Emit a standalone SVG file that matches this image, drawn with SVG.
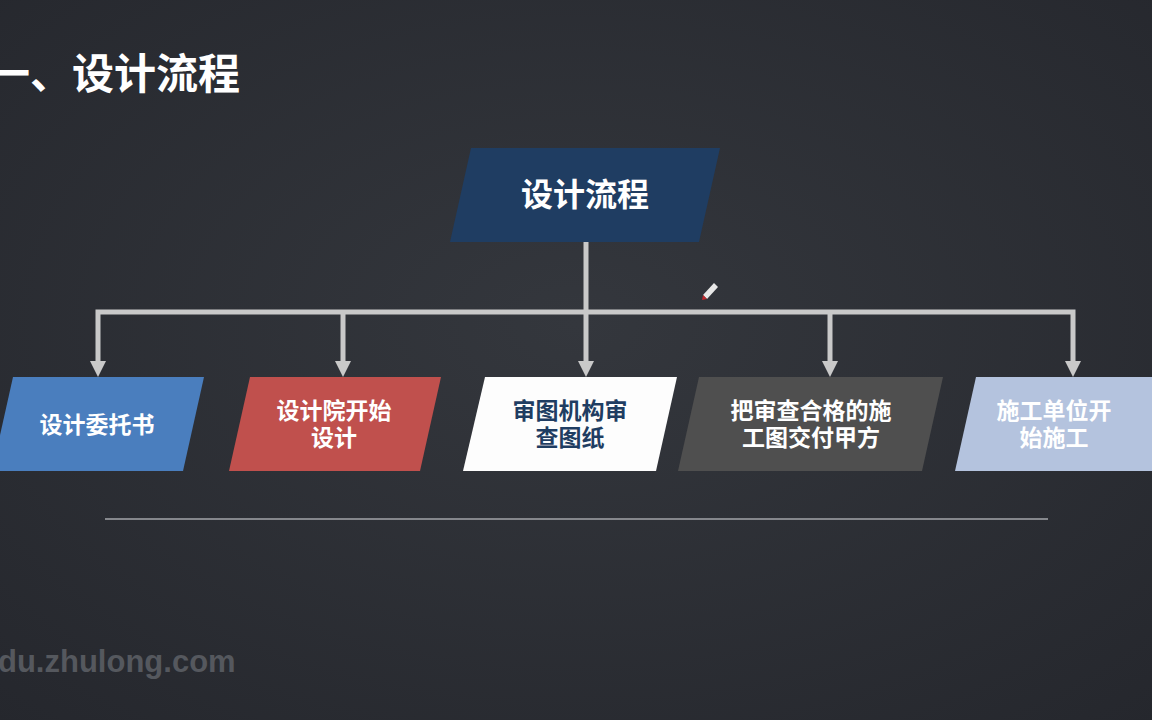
<svg xmlns="http://www.w3.org/2000/svg" width="1152" height="720" viewBox="0 0 1152 720">
<defs>
<style>
.t{font-family:"Liberation Sans","Noto Sans CJK SC",sans-serif;font-weight:bold;text-anchor:middle;dominant-baseline:central}
.w{fill:#ffffff}
.lbl{font-size:23px}
.conn{stroke:#c9c9c9;stroke-width:5;fill:none;stroke-linejoin:miter}
.ah{fill:#c9c9c9}
</style>
<radialGradient id="bg" cx="50%" cy="45%" r="75%">
<stop offset="0" stop-color="#34373d"/>
<stop offset="1" stop-color="#25272d"/>
</radialGradient>
</defs>
<rect width="1152" height="720" fill="url(#bg)"/>
<text class="t w" x="-12" y="74" style="font-size:42px;text-anchor:start">一、设计流程</text>
<text x="-2" y="661" style="font-family:'Liberation Sans',sans-serif;font-weight:bold;font-size:31px;fill:#55585e;dominant-baseline:central">du.zhulong.com</text>
<line x1="105" y1="519" x2="1048" y2="519" stroke="#85878c" stroke-width="2"/>
<g id="connectors">
<path class="conn" d="M586,242 V312"/>
<path class="conn" d="M98,364 V312 H1073 V364"/>
<path class="conn" d="M343,312 V364"/>
<path class="conn" d="M586,312 V364"/>
<path class="conn" d="M830,312 V364"/>
<polygon class="ah" points="90,361 106,361 98,377"/>
<polygon class="ah" points="335,361 351,361 343,377"/>
<polygon class="ah" points="578,361 594,361 586,377"/>
<polygon class="ah" points="822,361 838,361 830,377"/>
<polygon class="ah" points="1065,361 1081,361 1073,377"/>
</g>
<g id="top">
<polygon points="471,148 720,148 699,242 450,242" fill="#1f3d62"/>
<text class="t w" x="585" y="195" style="font-size:32px">设计流程</text>
</g>
<g id="n1">
<polygon points="13,377 204,377 183,471 -8,471" fill="#4a7ebe"/>
<text class="t w lbl" x="97" y="425">设计委托书</text>
</g>
<g id="n2">
<polygon points="250,377 441,377 420,471 229,471" fill="#c0504d"/>
<text class="t w lbl" x="334" y="411">设计院开始</text>
<text class="t w lbl" x="334" y="438">设计</text>
</g>
<g id="n3">
<polygon points="485,377 677,377 656,471 463,471" fill="#fdfdfd"/>
<text class="t lbl" x="570" y="411" fill="#1f3d62">审图机构审</text>
<text class="t lbl" x="570" y="438" fill="#1f3d62">查图纸</text>
</g>
<g id="n4">
<polygon points="699,377 943,377 922,471 678,471" fill="#4f4f4f"/>
<text class="t w lbl" x="811" y="411">把审查合格的施</text>
<text class="t w lbl" x="811" y="438">工图交付甲方</text>
</g>
<g id="n5">
<polygon points="976,377 1160,377 1160,471 955,471" fill="#b4c3de"/>
<text class="t w lbl" x="1054" y="411">施工单位开</text>
<text class="t w lbl" x="1054" y="438">始施工</text>
</g>
<g id="cursor">
<path d="M703,295 L714,283 L718,287 L707,299 Z" fill="#e8e8e8"/>
<path d="M703,295 L707,299 L702,300 Z" fill="#c0282d"/>
</g>
</svg>
